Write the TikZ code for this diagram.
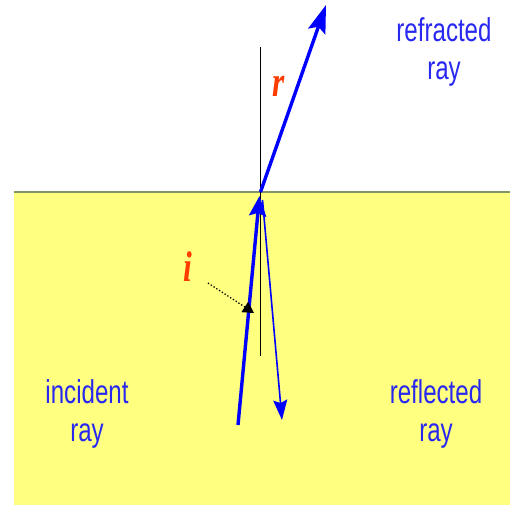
\documentclass[tikz,border=0pt]{standalone}
\usepackage{fontspec}
\setmainfont{Liberation Sans}
\newfontfamily\lblserif{Liberation Serif}
\usetikzlibrary{arrows.meta}
\definecolor{seayellow}{RGB}{255,255,128}
\definecolor{surfline}{RGB}{130,150,100}
\definecolor{raytext}{RGB}{40,40,240}
\definecolor{anglelbl}{RGB}{255,60,0}
\tikzset{
  raythick/.style={blue, line width=3.4pt},
  raythin/.style={blue, line width=1.6pt},
  rayword/.style={text=raytext, font=\fontsize{33}{38}\selectfont, xscale=0.73, transform shape, align=center, inner sep=0pt},
  anglesym/.style={text=anglelbl, font=\lblserif\bfseries\itshape\fontsize{43}{43}\selectfont, xscale=0.73, transform shape, inner sep=0pt, anchor=base},
}
\begin{document}
\begin{tikzpicture}[x=1pt,y=1pt]
\useasboundingbox (0,0) rectangle (510,-505);
% medium
\fill[seayellow] (14,-192) rectangle (510,-505);
\draw[surfline, line width=2pt] (14,-192) -- (510,-192);
% normal
\coordinate (ntop) at (260.5,-47);
\coordinate (nbot) at (260.5,-356);
\draw[black, line width=1.2pt] (ntop) -- (nbot);
% rays
\coordinate (hit) at (260.5,-192);
\coordinate (reftip) at (326,-5);
\coordinate (incstart) at (238,-425);
\coordinate (inctip) at (259.5,-196);
\coordinate (reflstart) at (262.5,-200);
\coordinate (refltip) at (282,-420);
\draw[raythick, -{Stealth[length=28pt,width=18pt,inset=5pt]}] (hit) -- (reftip);
\draw[raythick, -{Stealth[length=20pt,width=17pt,inset=3pt]}] (incstart) -- (inctip);
\draw[raythin, -{Stealth[length=20pt,width=14pt,inset=3pt]}] (reflstart) -- (refltip);
% angle labels
\node[anglesym] (rlab) at (278.5,-97) {r};
\node[anglesym] (ilab) at (188,-281.7) {i};
\coordinate (ptrstart) at (208,-283);
\coordinate (ptrtip) at (254,-313);
\draw[black, line width=1.3pt, dotted, -{Triangle[length=11pt,width=12pt]}] (ptrstart) -- (ptrtip);
% ray names
\node[rayword] (refracted) at (444,-52) {refracted\\ray};
\node[rayword] (incident) at (87,-413.5) {incident\\ray};
\node[rayword] (reflected) at (436,-413.5) {reflected\\ray};
\end{tikzpicture}
\end{document}
